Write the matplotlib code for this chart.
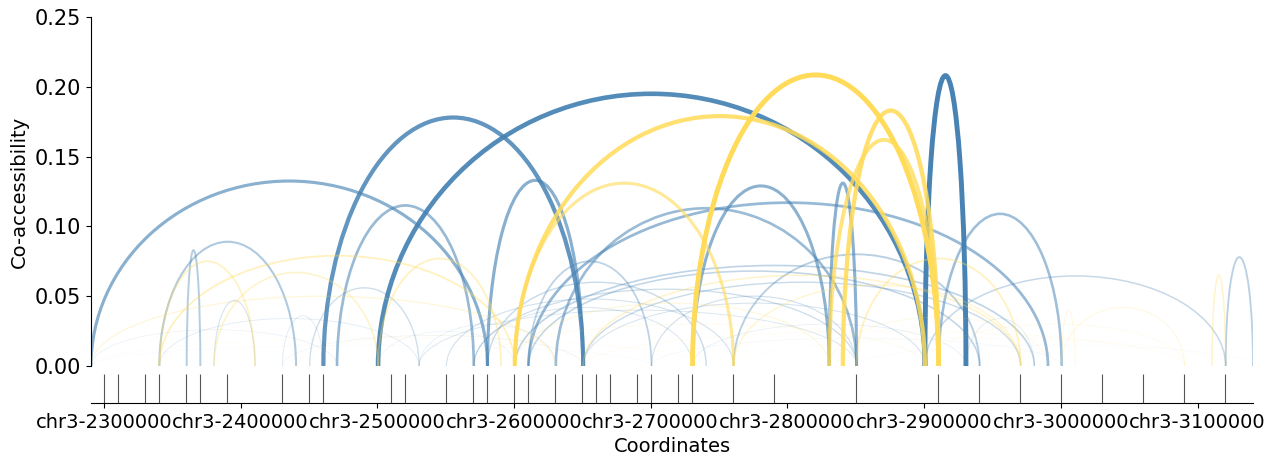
import matplotlib
matplotlib.use("Agg")
import matplotlib.pyplot as plt
from matplotlib.patches import Arc

# co-accessibility links (region midpoints, bp) and scores
blue_start = [2290600, 2460600, 2500600, 2900600, 2470600, 2340600, 2360600,
              2580600, 2730600, 2830600, 2910600, 2610600, 2630600, 2610600,
              2760600, 2900600, 3120600, 2450600, 2430600, 2380600, 2290600,
              2340600, 2600600, 2610600, 2650600, 2580600, 2700600, 2930600,
              2570600, 2550600, 2530600, 2290600, 2430600, 2530600, 2700600,
              2850600, 2730600, 2570600, 2500600, 2650600]
blue_end = [2580600, 2650600, 2900600, 2930600, 2570600, 2440600, 2370600,
            2650600, 2830600, 2850600, 3000600, 2990600, 2850600, 2700600,
            2940600, 3120600, 3140600, 2530600, 2460600, 2410600, 2470600,
            2530600, 2980600, 2940600, 2970600, 2740600, 2850600, 2980600,
            2850600, 2760600, 2850600, 2700600, 2650600, 2630600, 3000600,
            3140600, 2930600, 2730600, 2600600, 2900600]
blue_score = [0.1325, 0.178, 0.195, 0.208, 0.115, 0.089, 0.083,
              0.133, 0.129, 0.131, 0.109, 0.117, 0.113, 0.075,
              0.080, 0.0645, 0.078, 0.056, 0.036, 0.047, 0.026,
              0.034, 0.072, 0.068, 0.060, 0.060, 0.050, 0.034,
              0.055, 0.048, 0.040, 0.015, 0.022, 0.030, 0.020,
              0.015, 0.030, 0.042, 0.025, 0.045]

yellow_start = [2600600, 2730600, 2840600, 2830600, 2600600, 2340600, 2340600,
                2380600, 2290600, 2500600, 2650600, 2850600, 3000600, 3000600,
                3110600, 2760600, 2290600, 2570600, 2650600, 2760600, 2900600,
                2440600, 2600600, 2830600]
yellow_end = [2900600, 2910600, 2910600, 2910600, 2760600, 2410600, 2600600,
              2500600, 2630600, 2590600, 2970600, 2970600, 3090600, 3010600,
              3120600, 2970600, 2740600, 2900600, 3090600, 3120600, 3090600,
              2650600, 2830600, 2990600]
yellow_score = [0.179, 0.2085, 0.183, 0.162, 0.131, 0.075, 0.079,
                0.067, 0.050, 0.077, 0.065, 0.077, 0.042, 0.040,
                0.065, 0.058, 0.020, 0.030, 0.025, 0.020, 0.030,
                0.022, 0.045, 0.035]

# peak positions for the lower track
peaks = [2300000, 2310000, 2330000, 2340000, 2360000, 2370000, 2390000,
         2430000, 2450000, 2460000, 2510000, 2520000, 2550000, 2570000,
         2580000, 2600000, 2610000, 2630000, 2650000, 2660000, 2670000,
         2690000, 2700000, 2720000, 2730000, 2760000, 2790000, 2850000,
         2910000, 2940000, 2970000, 3000000, 3030000, 3060000, 3090000,
         3120000]

chrom = "chr3"
tick_pos = [2300000, 2400000, 2500000, 2600000, 2700000, 2800000, 2900000,
            3000000, 3100000]
y_ticks = [0.00, 0.05, 0.10, 0.15, 0.20, 0.25]

BLUE = "#4682b4"
YELLOW = "#ffdb58"
X_RANGE = (2290600, 3140600)


def draw_links(ax, starts, ends, scores, color):
    for s, e, h in zip(starts, ends, scores):
        arc = Arc(((s + e) / 2, 0), e - s, 2 * h, theta1=0, theta2=180,
                  color=color, lw=h * 17, alpha=min(1.0, h / 0.21))
        ax.add_patch(arc)


def main():
    fig = plt.figure(figsize=(12.76, 4.66), dpi=100)
    ax = fig.add_axes([0.0713, 0.2146, 0.9107, 0.7489])
    ax_p = fig.add_axes([0.0713, 0.1352, 0.9107, 0.0622], sharex=ax)

    draw_links(ax, blue_start, blue_end, blue_score, BLUE)
    draw_links(ax, yellow_start, yellow_end, yellow_score, YELLOW)

    ax.set_xlim(*X_RANGE)
    ax.set_ylim(0, 0.25)
    ax.set_yticks(y_ticks)
    ax.set_yticklabels([f"{v:.2f}" for v in y_ticks])
    ax.tick_params(axis="y", labelsize=15)
    ax.set_ylabel("Co-accessibility", fontsize=14)
    for side in ["top", "right", "bottom"]:
        ax.spines[side].set_visible(False)
    ax.tick_params(axis="x", bottom=False, labelbottom=False)

    # peaks track
    ax_p.vlines(peaks, 0, 1, color="#555555", lw=0.8)
    ax_p.set_ylim(0, 1)
    ax_p.set_yticks([])
    for side in ["top", "right", "left"]:
        ax_p.spines[side].set_visible(False)
    ax_p.set_xticks(tick_pos)
    ax_p.set_xticklabels([f"{chrom}-{p}" for p in tick_pos])
    ax_p.tick_params(axis="x", labelsize=14)
    ax_p.set_xlabel("Coordinates", fontsize=14)

    fig.savefig("out.png", dpi=100)
    plt.close(fig)


if __name__ == "__main__":
    main()
